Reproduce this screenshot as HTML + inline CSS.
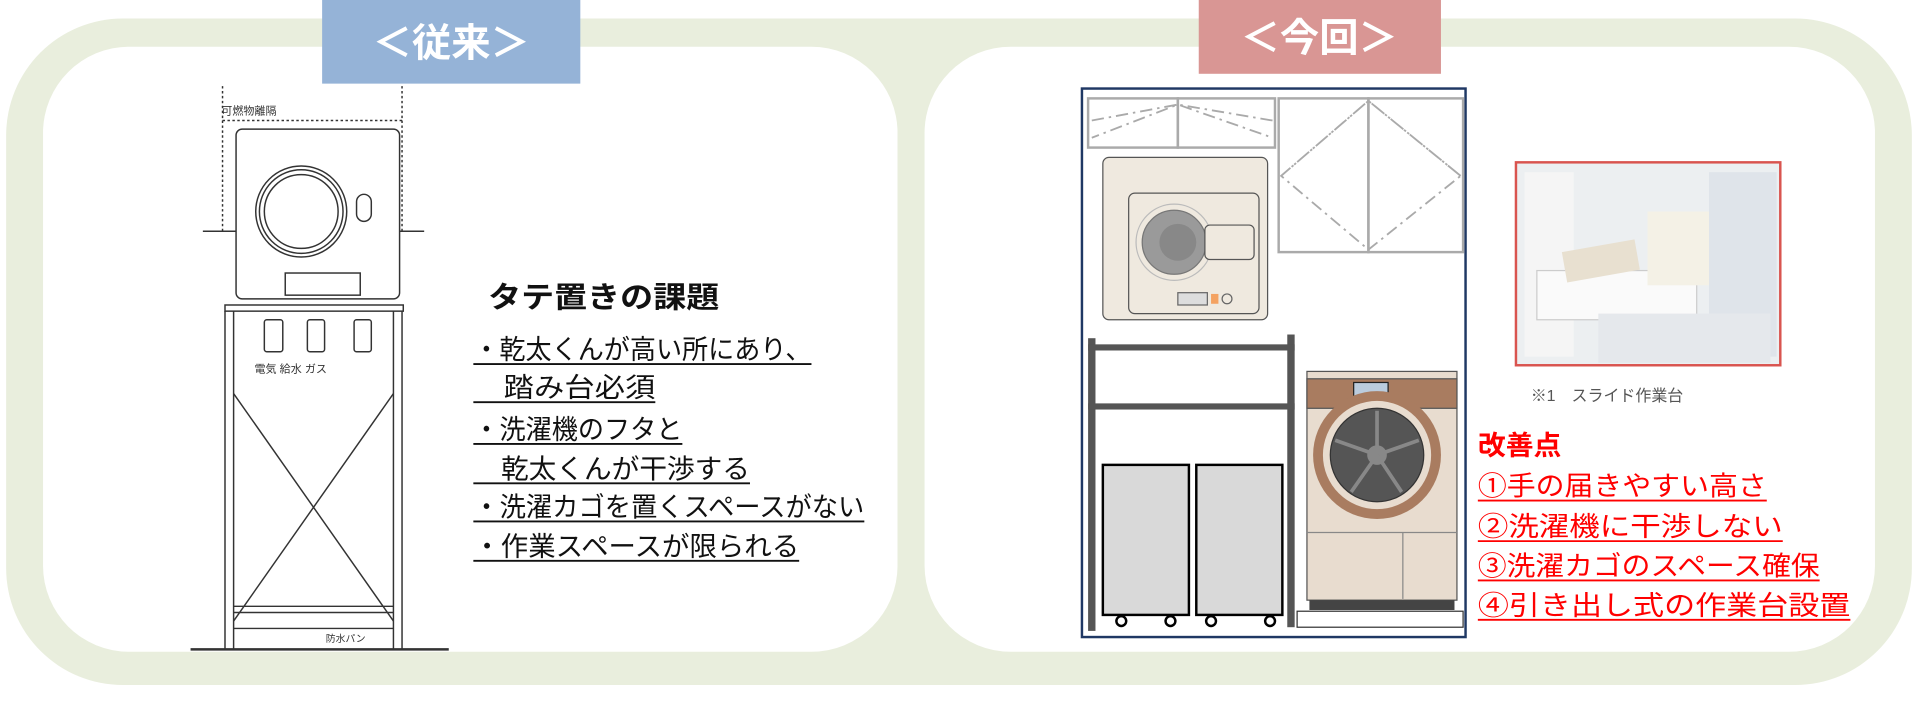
<!DOCTYPE html>
<html><head><meta charset="utf-8"><style>
html,body{margin:0;padding:0;background:#fff;}
svg{display:block;}
text{font-family:"Liberation Sans","Noto Sans CJK JP",sans-serif;}
</style></head><body>
<svg width="1918" height="701" viewBox="0 0 1560 570" preserveAspectRatio="none" xmlns="http://www.w3.org/2000/svg">
<rect x="0" y="0" width="1560" height="570" fill="#fff"/>
<rect x="5" y="15" width="1550" height="542" rx="95" fill="#e9eedd"/>
<rect x="35" y="38" width="695" height="492" rx="70" fill="#fff"/>
<rect x="752" y="38" width="773" height="492" rx="70" fill="#fff"/>
<!-- tabs -->
<rect x="262" y="0" width="210" height="68" fill="#95b3d7"/>
<text x="367" y="46" font-size="32" font-weight="bold" fill="#fff" text-anchor="middle">＜従来＞</text>
<rect x="975" y="0" width="197" height="60" fill="#d99694"/>
<text x="1073" y="42" font-size="32" font-weight="bold" fill="#fff" text-anchor="middle">＜今回＞</text>

<!-- left drawing -->
<g stroke="#333" fill="none" stroke-width="1.2">
<line x1="181" y1="70" x2="181" y2="190" stroke-dasharray="2,2"/>
<line x1="327" y1="70" x2="327" y2="190" stroke-dasharray="2,2"/>
<line x1="181" y1="98" x2="327" y2="98" stroke-dasharray="2,2"/>
<rect x="192" y="105" width="133" height="138" rx="5"/>
<circle cx="245" cy="172" r="37"/><circle cx="245" cy="172" r="30"/><circle cx="245" cy="172" r="34"/>
<rect x="290" y="158" width="12" height="22" rx="6"/>
<rect x="232" y="222" width="61" height="18"/>
<line x1="165" y1="188" x2="192" y2="188"/><line x1="325" y1="188" x2="345" y2="188"/>
<rect x="183" y="248" width="145" height="5"/>
<line x1="183" y1="253" x2="183" y2="528"/><line x1="190" y1="253" x2="190" y2="528"/>
<line x1="320" y1="253" x2="320" y2="528"/><line x1="327" y1="253" x2="327" y2="528"/>
<line x1="190" y1="320" x2="320" y2="505"/><line x1="320" y1="320" x2="190" y2="505"/>
<line x1="190" y1="493" x2="320" y2="493"/><line x1="190" y1="498" x2="320" y2="498"/>
<line x1="190" y1="511" x2="320" y2="511"/>
<line x1="155" y1="528" x2="365" y2="528" stroke-width="2"/>
<rect x="215" y="260" width="15" height="26" rx="2"/>
<rect x="250" y="260" width="14" height="26" rx="2"/>
<rect x="288" y="260" width="14" height="26" rx="2"/>
</g>
<rect x="242" y="452" width="32" height="28" fill="#fff"/>
<text x="180" y="93" font-size="9" fill="#333">可燃物離隔</text>
<text x="207" y="303" font-size="9" fill="#333">電気 給水 ガス</text>
<text x="265" y="522" font-size="8" fill="#333">防水パン</text>

<g font-size="22" fill="#111">
<text x="397" y="250" font-size="24" font-weight="bold" textLength="188" lengthAdjust="spacingAndGlyphs">タテ置きの課題</text>
<text x="385" y="292" textLength="275" lengthAdjust="spacingAndGlyphs">・乾太くんが高い所にあり、</text>
<text x="385" y="323" textLength="148" lengthAdjust="spacingAndGlyphs">　踏み台必須</text>
<text x="385" y="357" textLength="170" lengthAdjust="spacingAndGlyphs">・洗濯機のフタと</text>
<text x="385" y="389" textLength="225" lengthAdjust="spacingAndGlyphs">　乾太くんが干渉する</text>
<text x="385" y="420" textLength="318" lengthAdjust="spacingAndGlyphs">・洗濯カゴを置くスペースがない</text>
<text x="385" y="452" textLength="265" lengthAdjust="spacingAndGlyphs">・作業スペースが限られる</text>
</g>
<g stroke="#111" stroke-width="1.5">
<line x1="385" y1="296" x2="660" y2="296"/><line x1="385" y1="327" x2="533" y2="327"/>
<line x1="385" y1="361" x2="555" y2="361"/><line x1="385" y1="393" x2="610" y2="393"/>
<line x1="385" y1="424" x2="703" y2="424"/><line x1="385" y1="456" x2="650" y2="456"/>
</g>

<!-- right drawing -->
<rect x="880" y="72" width="312" height="446" fill="#fff" stroke="#1f3864" stroke-width="2"/>
<g stroke="#aaa" fill="none" stroke-width="2">
<rect x="885" y="80" width="73" height="40"/><rect x="958" y="80" width="79" height="40"/>
<rect x="1040" y="80" width="73" height="125"/><rect x="1113" y="80" width="77" height="125"/>
</g>
<g stroke="#aaa" fill="none" stroke-width="1.5" stroke-dasharray="10,4,2,4">
<polyline points="888,98 958,85 888,112"/><polyline points="1035,98 958,85 1035,112"/>
<polyline points="1042,143 1113,82 1042,143 1113,203"/><polyline points="1188,143 1113,82 1188,143 1113,203"/>
</g>
<rect x="897" y="128" width="134" height="132" rx="5" fill="#efe9df" stroke="#555"/>
<rect x="918" y="157" width="106" height="98" rx="5" fill="#efe9df" stroke="#555"/>
<circle cx="955" cy="197" r="31" fill="#efe9df" stroke="#bbb"/>
<circle cx="955" cy="197" r="26" fill="#9a9a9a" stroke="#777"/>
<circle cx="958" cy="197" r="15" fill="#888"/>
<rect x="980" y="183" width="40" height="28" rx="4" fill="#efe9df" stroke="#555"/>
<rect x="958" y="238" width="24" height="10" fill="#ddd" stroke="#666"/>
<rect x="985" y="239" width="6" height="8" fill="#f4a261"/>
<circle cx="998" cy="243" r="4" fill="none" stroke="#666"/>

<g fill="#555">
<rect x="885" y="275" width="6" height="238"/><rect x="1047" y="272" width="6" height="238"/>
<rect x="885" y="280" width="168" height="5"/><rect x="885" y="328" width="168" height="5"/>
</g>
<rect x="897" y="378" width="70" height="122" fill="#d9d9d9" stroke="#000" stroke-width="2"/>
<rect x="973" y="378" width="70" height="122" fill="#d9d9d9" stroke="#000" stroke-width="2"/>
<g fill="#fff" stroke="#000" stroke-width="2">
<circle cx="912" cy="505" r="4"/><circle cx="952" cy="505" r="4"/><circle cx="985" cy="505" r="4"/><circle cx="1033" cy="505" r="4"/>
</g>

<rect x="1063" y="302" width="122" height="186" fill="#e8dccf" stroke="#555"/>
<rect x="1063" y="308" width="122" height="24" fill="#a97c60" stroke="#555"/>
<rect x="1101" y="311" width="28" height="16" fill="#bcd" stroke="#222"/>
<circle cx="1120" cy="370" r="52" fill="#a97c60"/>
<circle cx="1120" cy="370" r="44" fill="#e8dccf"/>
<circle cx="1120" cy="370" r="38" fill="#555" stroke="#333"/>
<circle cx="1120" cy="370" r="8" fill="#888"/>
<g stroke="#888" stroke-width="3"><line x1="1120" y1="370" x2="1120" y2="334"/><line x1="1120" y1="370" x2="1154" y2="358"/><line x1="1120" y1="370" x2="1140" y2="400"/><line x1="1120" y1="370" x2="1099" y2="400"/><line x1="1120" y1="370" x2="1086" y2="358"/></g>
<line x1="1063" y1="433" x2="1185" y2="433" stroke="#888"/>
<line x1="1141" y1="433" x2="1141" y2="487" stroke="#888"/>
<rect x="1065" y="488" width="118" height="8" fill="#444"/>
<rect x="1055" y="497" width="135" height="13" fill="#fff" stroke="#333"/>

<!-- photo -->
<rect x="1233" y="132" width="215" height="165" fill="#eceff1" stroke="#d9544f" stroke-width="2"/>
<rect x="1240" y="140" width="40" height="150" fill="#f5f5f5"/>
<rect x="1250" y="220" width="130" height="40" fill="#fafafa" stroke="#ccc"/>
<rect x="1272" y="200" width="60" height="25" fill="#e8e0d0" transform="rotate(-10 1300 212)"/>
<rect x="1340" y="172" width="60" height="60" fill="#f4f1e6"/>
<rect x="1390" y="140" width="55" height="150" fill="#dfe4ea"/>
<rect x="1300" y="255" width="140" height="40" fill="#e5e8ec"/>
<text x="1245" y="326" font-size="13" fill="#555">※1　スライド作業台</text>

<g fill="#f00">
<text x="1202" y="370" font-size="22" font-weight="bold" textLength="68" lengthAdjust="spacingAndGlyphs">改善点</text>
<g font-size="22">
<text x="1202" y="403" textLength="235" lengthAdjust="spacingAndGlyphs">①手の届きやすい高さ</text>
<text x="1202" y="436" textLength="248" lengthAdjust="spacingAndGlyphs">②洗濯機に干渉しない</text>
<text x="1202" y="468" textLength="278" lengthAdjust="spacingAndGlyphs">③洗濯カゴのスペース確保</text>
<text x="1202" y="500" textLength="303" lengthAdjust="spacingAndGlyphs">④引き出し式の作業台設置</text>
</g></g>
<g stroke="#f00" stroke-width="1.5">
<line x1="1202" y1="407" x2="1437" y2="407"/><line x1="1202" y1="440" x2="1450" y2="440"/>
<line x1="1202" y1="472" x2="1480" y2="472"/><line x1="1202" y1="504" x2="1505" y2="504"/>
</g>
</svg>
</body></html>
